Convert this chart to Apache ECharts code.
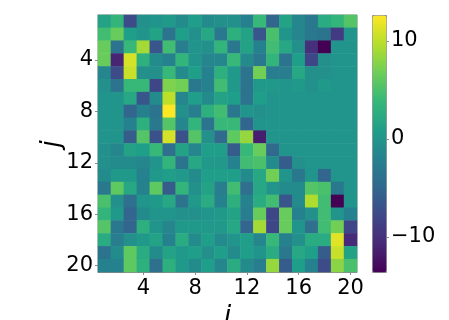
<!DOCTYPE html>
<html>
<head>
<meta charset="utf-8">
<script src="https://cdn.jsdelivr.net/npm/echarts@6/dist/echarts.min.js"></script>
<style>
  html, body { margin: 0; padding: 0; background: #fff; }
  #chart { width: 449px; height: 320px; }
</style>
</head>
<body>
<div id="chart"></div>
<script>
const iLabels = ['1','2','3','4','5','6','7','8','9','10','11','12','13','14','15','16','17','18','19','20'];
const jLabels = ['1','2','3','4','5','6','7','8','9','10','11','12','13','14','15','16','17','18','19','20'];
const colorTicks = [-10, 0, 10];
const valueMin = -13.6;
const valueMax = 12.65;

// one row per j
const values = [
  [1.5, 3.5, -7.5, -0.5, 0, 0.5, -1, 1, -1, -0.5, -0.5, -2, 4, -5, 1.5, -1.5, -3, 2.5, 3.5, 5.5],
  [4.5, 6.5, 1, 0, 1.5, -3.5, 1, -0.5, 2, -3, 3, 1.5, -6.5, 5, 0, -1.5, -3, -3.5, -9, 0],
  [6.5, -3.5, 4, 9, -6.5, 4.5, -2.5, 0, -0.5, 3.5, -3, 1.5, -2, 4.5, 2, -0.5, -10, -13.6, 0, 0],
  [6.5, -11, 11, 3, -1, -2, 3.5, 0, -1.5, -1.5, 4, -1, -3, 3.5, -3.5, 1, -8, -0.5, 0, 0],
  [-1.5, -7.5, 10.5, -0.5, -0.5, 4, -1, 1, -2, 3, 0.5, -3.5, 7, -2.5, -2.5, 2, -0.5, -0.5, 0, 0],
  [-0.5, -3.5, 4, 4, -8, 7.5, 7, -3, -2, 4.5, 0.5, -3.5, 0.5, 0.5, 0, 0.5, -0.5, 0.5, 0, 0],
  [0, 0, 2, -6.5, -1, 10, -1.5, 1, -1, 1.5, 1, -3.5, 1, 0, 0, 0, 0, 0, 0, 0],
  [0, 0, -5, -2, -3.5, 12.6, -0.5, -2.5, 3, 4.5, -3, 0, -0.5, 0, 0, 0, 0, 0, 0, 0],
  [0, 0, -2, 3, -3, 5.5, -1.5, 3.5, -3.5, 4, 4, -5, 0, 0, 0, 0, 0, 0, 0, 0],
  [0, 0, -6, 5.5, -7, 11, -7, 5.5, -0.5, -4.5, 6, 8.5, -11.5, 0, 0, 0, 0, 0, 0, 0],
  [-0.5, -1.5, 1.5, 1, 4, -4, 1.5, -1.5, 1, 1, -6, 4, 6.5, -4.5, 0, 0, 0, 0, 0, 0],
  [-0.5, -1, -1, -1.5, 0, 3.5, -3.5, 2, 0.5, 0.5, -2, 4.5, 5, -1, -6, -0.5, 0, 0, 0, 0],
  [-1, 0.5, 0.5, -2, 0.5, 1, 0.5, -1, 1, 1, 1, -1, 2, 7, 0, -3, 0, -5, 0, 0],
  [-3, 6, 2, -2, 6, -6, 3.5, -0.5, 1.5, -2.5, 4.5, -4, 2, 0, -1, -1, 5.5, 5, -3, 0],
  [5, -0.5, -4, 0, 0.5, 2, -3.5, 0.5, 2.5, -2, 3, -2, 2.5, 4.5, -6.5, -1, 9.5, 4.5, -13.6, 0],
  [3.5, 0.5, -5, -1, 0, 0, -0.5, -0.5, 0, 0.5, 1.5, -2.5, 6.5, -8, 6.5, -2, -0.5, 4.5, 0, -2],
  [5.5, -3, -5, 3, 0, -1.5, 0.5, 0.5, 0.5, 0.5, 2, -5, 9, -8, 6.5, 0, -4, 4.5, 7, -8],
  [2.5, -2.5, -0.5, 0.5, 1.5, -2, 2.5, -1, 1, -1, 0, 1, -1.5, 4, -2, -0.5, 2.5, 2.5, 11.5, -10.5],
  [-3.5, -1, 6, 2.5, -1, 1.5, 0.5, 1, -0.5, 1, -1, 1, 0, 2.5, -3, 2, 1, -6, 10.5, 1.5],
  [-2, -2, 6, 3, -4, 3, 0.5, -1, 1, -1.5, 2.5, -1, -2.5, 8.5, -6, 1, -2, -7.5, 8, 5]
];

const cells = [];
values.forEach((row, j) => {
  row.forEach((v, i) => cells.push([i, j, v]));
});

const font = 'DejaVu Sans';
const spine = '#8c8c8c';
const everyFourth = idx => (idx + 1) % 4 === 0;

const chart = echarts.init(document.getElementById('chart'), null, { renderer: 'canvas' });
chart.setOption({
  animation: false,
  backgroundColor: '#fff',
  grid: [
    { left: 98, top: 15, width: 259, height: 257, show: true, borderColor: spine, borderWidth: 1, outerBoundsMode: 'none' },
    { left: 372, top: 15, width: 14, height: 257, outerBoundsMode: 'none' }
  ],
  // the j title lies on its side, the axis name would not rotate
  graphic: [{
    type: 'text', x: 52, y: 144, rotation: Math.PI / 2,
    style: { text: 'j', font: 'italic 26px "DejaVu Sans"', fill: '#000', align: 'center', verticalAlign: 'middle' }
  }],
  xAxis: [
    {
      type: 'category', gridIndex: 0, data: iLabels,
      name: 'i', nameLocation: 'middle', nameGap: 24,
      nameTextStyle: { fontFamily: font, fontStyle: 'italic', fontSize: 26, color: '#000' },
      axisLine: { show: true, lineStyle: { color: spine } },
      axisTick: { show: true, alignWithLabel: true, interval: (idx) => everyFourth(idx), length: 3, lineStyle: { color: spine } },
      axisLabel: { interval: (idx) => everyFourth(idx), fontFamily: font, fontSize: 21, color: '#000', margin: 6 },
      splitLine: { show: false }
    },
    { type: 'category', gridIndex: 1, data: [''], show: false }
  ],
  yAxis: [
    {
      type: 'category', gridIndex: 0, data: jLabels, inverse: true,
      axisLine: { show: true, lineStyle: { color: spine } },
      axisTick: { show: true, alignWithLabel: true, interval: (idx) => everyFourth(idx), length: 3, lineStyle: { color: spine } },
      axisLabel: { interval: (idx) => everyFourth(idx), fontFamily: font, fontSize: 21, color: '#000', margin: 5 },
      splitLine: { show: false }
    },
    {
      type: 'value', gridIndex: 1, position: 'right', min: valueMin, max: valueMax,
      axisLine: { show: false },
      axisTick: { show: true, length: 3, customValues: colorTicks, lineStyle: { color: spine } },
      axisLabel: {
        customValues: colorTicks, fontFamily: font, fontSize: 21, color: '#000', margin: 5,
        formatter: v => String(v).replace('-', '\u2212')
      },
      splitLine: { show: false }
    }
  ],
  visualMap: {
    type: 'continuous', min: valueMin, max: valueMax, seriesIndex: 0,
    left: 372, top: 15, itemWidth: 14, itemHeight: 257, padding: 0,
    calculable: false, hoverLink: false, text: null, showLabel: false,
    borderColor: spine, borderWidth: 1,
    inRange: { color: ['#440154', '#482878', '#3e4989', '#31688e', '#26828e', '#1f9e89', '#35b779', '#6ece58', '#b5de2b', '#fde725'] },
    textStyle: { color: 'transparent' }
  },
  series: [{
    type: 'heatmap', xAxisIndex: 0, yAxisIndex: 0, data: cells, silent: true,
    itemStyle: { borderWidth: 0 }
  }]
});
</script>
</body>
</html>
